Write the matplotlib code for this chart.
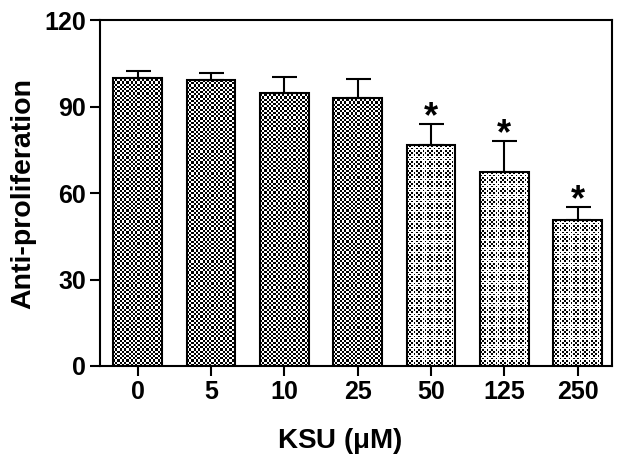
import numpy as np
import matplotlib
matplotlib.use("Agg")
import matplotlib.pyplot as plt

plt.rcParams.update({
    'font.family': ['Liberation Sans', 'DejaVu Sans'],
    'font.weight': 'bold',
    'axes.linewidth': 1.5,
})

# ============ DATA ============
doses = ['0', '5', '10', '25', '50', '125', '250']
means = [100.0, 99.2, 94.8, 93.0, 76.5, 67.2, 50.5]
errs = [2.3, 2.6, 5.5, 6.5, 7.5, 10.8, 4.5]
signif = [False, False, False, False, True, True, True]
light = [False, False, False, False, True, True, True]

BAR_W = 0.66
CELL_PX = 2.2


def checker(nx, ny, sparse, sub=4):
    """Checkerboard texture; sparse -> smaller black squares."""
    jj, ii = np.meshgrid(np.arange(nx * sub), np.arange(ny * sub))
    on = ((ii // sub + jj // sub) % 2) == 0
    if sparse:
        on &= (ii % sub < 3) & (jj % sub < 3)
    return np.where(on, 0.0, 1.0)


fig = plt.figure(figsize=(6.24, 4.66), dpi=100)
ax = fig.add_axes([0.160, 0.2146, 0.821, 0.7424])
ax.set_xlim(-0.515, 6.47)
ax.set_ylim(0, 120)

ax_w_px = 0.821 * 624
ax_h_px = 0.7424 * 466
px_x = ax_w_px / (6.47 + 0.515)
px_y = ax_h_px / 120.0

x = np.arange(len(doses))
bars = ax.bar(x, means, width=BAR_W, facecolor='none', edgecolor='black',
              linewidth=1.5, zorder=3)

for xi, m, sp, b in zip(x, means, light, bars):
    nx = max(1, int(round(BAR_W * px_x / CELL_PX)))
    ny = max(1, int(round(m * px_y / CELL_PX)))
    im = ax.imshow(checker(nx, ny, sp), cmap='gray', vmin=0, vmax=1,
                   extent=(xi - BAR_W / 2, xi + BAR_W / 2, 0, m),
                   aspect='auto', interpolation='nearest', zorder=2,
                   origin='lower')
    im.set_clip_path(b)

ax.errorbar(x, means, yerr=[np.zeros(len(errs)), errs], fmt='none',
            ecolor='black', elinewidth=1.5, capsize=9, capthick=1.5, zorder=4)

for xi, m, e, s in zip(x, means, errs, signif):
    if s:
        ax.annotate('*', (xi, m + e), xytext=(0, -8), textcoords='offset points',
                    ha='center', va='bottom', fontsize=26, fontweight='bold')

ax.set_xlim(-0.515, 6.47)
ax.set_ylim(0, 120)
ax.set_xticks(x)
ax.set_xticklabels(doses)
ax.set_yticks([0, 30, 60, 90, 120])
ax.tick_params(axis='both', length=7, width=1.5, labelsize=18, pad=3)
for lab in ax.get_xticklabels() + ax.get_yticklabels():
    lab.set_fontweight('bold')

ax.set_ylabel('Anti-proliferation', fontsize=20.5, fontweight='bold', labelpad=6)
ax.set_xlabel(r'KSU ($\mathregular{\mu}$M)', fontsize=20, fontweight='bold',
              labelpad=16)
ax.xaxis.label.set_x(0.469)

fig.savefig('out.png', dpi=100, facecolor='white')
